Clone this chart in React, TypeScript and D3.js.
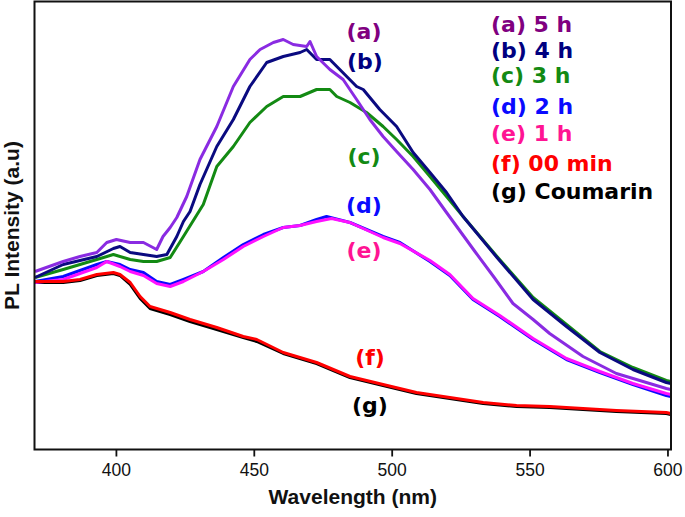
import React from "react";
import * as d3 from "d3";

// ---- data (wavelength nm, intensity a.u.) ----
const wl_a = [370.5, 380.7, 386.8, 392.9, 396.5, 400, 405, 409.8, 414.6, 416.9, 419.5, 421.9, 425.5, 430.3, 436.4, 442.4, 448.4, 452.1, 456.9, 460.5, 464.1, 469.0, 470.2, 472.6, 477.4, 482.2, 487.1, 491.9, 496.7, 501.6, 507.6, 513.7, 519.7, 530, 537, 543.8, 551.1, 557.1, 569.2, 581.3, 599.4, 601];
const in_a = [178, 188, 193, 197, 207, 210, 207, 207, 200, 213, 222, 232, 253, 290, 323, 363, 390, 400, 407, 410, 405, 403, 408, 393, 380, 370, 350, 330, 313, 298, 280, 260, 237, 198, 172, 146, 130, 116, 93, 76, 61, 60];

const wl_b = [370.5, 380.7, 392.9, 398.9, 401.3, 405, 409.8, 414.6, 418.3, 421.9, 424.3, 426.7, 430.3, 436.4, 442.4, 448.4, 454.5, 460.5, 466.6, 469.0, 472.6, 477.4, 481.0, 487.1, 489.5, 495.5, 501.6, 507.6, 513.7, 519.7, 525.7, 538, 551.1, 563.2, 575.3, 587.3, 599.4, 601];
const in_b = [172, 185, 193, 201, 203, 197, 195, 193, 195, 213, 228, 238, 265, 303, 330, 363, 387, 393, 397, 400, 390, 390, 380, 363, 360, 340, 323, 297, 277, 257, 233, 192, 150, 123, 97, 80, 67, 66];

const wl_c = [370.5, 380.7, 392.9, 398.9, 405, 409.8, 414.6, 419.5, 424.3, 431.5, 436.4, 442.4, 448.4, 454.5, 460.5, 466.6, 472.6, 477.4, 479.9, 484.7, 490.7, 496.7, 501.6, 507.6, 513.7, 519.7, 525.7, 538, 551.1, 563.2, 575.3, 587.3, 599.4, 601];
const in_c = [172, 180, 190, 195, 190, 188, 188, 192, 213, 245, 283, 303, 327, 343, 353, 353, 360, 360, 353, 347, 337, 323, 310, 293, 273, 253, 233, 193, 152, 125, 98, 82, 69, 68];

const wl_d = [370.5, 380.7, 392.9, 396.5, 401.3, 405, 409.8, 414.6, 419.5, 424.3, 431.5, 438.8, 446.0, 453.3, 460.5, 466.6, 472.6, 476.2, 484.7, 496.7, 502.8, 513.7, 520.9, 529.3, 539.0, 551.1, 563.2, 575.3, 587.3, 599.4, 601];
const in_d = [168, 173, 185, 188, 185, 180, 177, 168, 165, 170, 178, 192, 205, 215, 222, 224, 230, 233, 227, 213, 207, 188, 174, 150, 133, 110, 90, 77, 65, 54, 53];

const wl_e = [370.5, 380.7, 392.9, 396.5, 401.3, 405, 409.8, 414.6, 419.5, 424.3, 431.5, 438.8, 446.0, 453.3, 460.5, 466.6, 472.6, 478, 484.7, 496.7, 502.8, 513.7, 520.9, 529.3, 539.0, 551.1, 563.2, 575.3, 587.3, 599.4, 601];
const in_e = [167, 170, 182, 188, 183, 178, 174, 166, 163, 168, 178, 190, 203, 213, 222, 224, 228, 231, 227, 212, 206, 189, 175, 151, 134, 111, 91, 78, 66, 56, 55];

const wl_f = [370.5, 380.7, 386.8, 392.9, 398.9, 401.3, 405, 408.6, 412.2, 419.5, 426.7, 436.4, 446.0, 450.9, 460.5, 472.6, 484.7, 496.7, 508.8, 520.9, 533.0, 545.1, 557.1, 569.2, 581.3, 599.4, 601];
const in_f = [168, 168, 170, 175, 177, 175, 167, 153, 143, 137, 130, 122, 113, 110, 97, 87, 73, 65, 57, 52, 47, 44, 43, 41, 39, 37, 36];
const in_g = [167, 167, 169, 174, 176, 174, 165, 151, 141, 135, 128, 120, 112, 108, 96, 86, 72, 64, 56, 51, 46, 43, 42, 40, 38, 36, 35];

const xTicks = [400, 450, 500, 550, 600];
const legendLabels = ["(a) 5 h", "(b) 4 h", "(c) 3 h", "(d) 2 h", "(e) 1 h", "(f) 00 min", "(g) Coumarin"];
const curveTags = ["(a)", "(b)", "(c)", "(d)", "(e)", "(f)", "(g)"];

const W = 685, H = 517;
const left = 34.5, right = 671, top = 1.5, bottom = 449.5;

export default function App() {
  const x = d3.scaleLinear().domain([370.3, 601.1]).range([left, right]);
  const y = d3.scaleLinear().domain([0, 448]).range([bottom, top]);
  const line = d3.line<[number, number]>().x(d => x(d[0])).y(d => y(d[1]));
  const zip = (a: number[], b: number[]) => a.map((v, i) => [v, b[i]] as [number, number]);

  const series = [
    { key: "g", pts: zip(wl_f, in_g), color: "#000000" },
    { key: "c", pts: zip(wl_c, in_c), color: "#138a13" },
    { key: "b", pts: zip(wl_b, in_b), color: "#0a0a80" },
    { key: "a", pts: zip(wl_a, in_a), color: "#8a2be2" },
    { key: "d", pts: zip(wl_d, in_d), color: "#0a0aff" },
    { key: "e", pts: zip(wl_e, in_e), color: "#ff10ff" },
    { key: "f", pts: zip(wl_f, in_f), color: "#ff0000" },
  ];

  const textColors = ["#800080", "#000080", "#138a13", "#0a0aff", "#ff1493", "#ff0000", "#000000"];
  const legendY = [32, 58, 83, 114, 141, 171, 199];
  const tagPos: [number, number][] = [[364, 39], [365, 69], [364, 164], [364, 213], [364, 258], [370, 365], [370, 413]];
  const legendFont = "'DejaVu Sans', Verdana, sans-serif";
  const axisFont = "'Liberation Sans', Arial, sans-serif";

  return (
    <div style={{ position: "fixed", left: 0, top: 0 }}>
      <svg width={W} height={H} style={{ display: "block", background: "#fff" }}>
        {series.map(s => (
          <path key={s.key} d={line(s.pts) || ""} fill="none" stroke={s.color} strokeWidth={3} strokeLinejoin="round" />
        ))}
        <rect x={left} y={top} width={right - left} height={bottom - top} fill="none" stroke="#111" strokeWidth={2} />
        {xTicks.map(t => (
          <g key={t} transform={`translate(${x(t)},0)`}>
            <line y1={bottom} y2={bottom + 7} stroke="#111" strokeWidth={1.8} />
            <text y={476} textAnchor="middle" fontFamily={axisFont} fontSize={17.5} fill="#111">{t}</text>
          </g>
        ))}
        <text x={(left + right) / 2} y={504} textAnchor="middle" fontFamily={axisFont} fontWeight="bold" fontSize={21} fill="#111">Wavelength (nm)</text>
        <text transform={`translate(18.5,${(top + bottom) / 2}) rotate(-90)`} textAnchor="middle" fontFamily={axisFont} fontWeight="bold" fontSize={21} fill="#111">PL Intensity (a.u)</text>
        {legendLabels.map((l, i) => (
          <text key={l} x={491} y={legendY[i]} fontFamily={legendFont} fontWeight="bold" fontSize={22} fill={textColors[i]}>{l}</text>
        ))}
        {curveTags.map((l, i) => (
          <text key={l} x={tagPos[i][0]} y={tagPos[i][1]} textAnchor="middle" fontFamily={legendFont} fontWeight="bold" fontSize={22} fill={textColors[i]}>{l}</text>
        ))}
      </svg>
    </div>
  );
}
